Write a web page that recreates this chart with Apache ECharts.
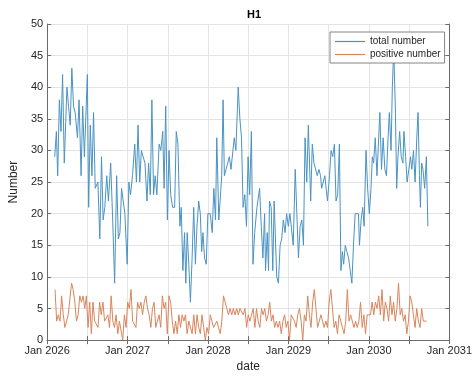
<!DOCTYPE html>
<html>
<head>
<meta charset="utf-8">
<script src="https://cdn.jsdelivr.net/npm/echarts@6/dist/echarts.min.js"></script>
<style>
html, body { margin: 0; padding: 0; background: #fff; }
#chart { width: 475px; height: 378px; }
</style>
</head>
<body>
<div id="chart"></div>
<script>
// total number: [years after Jan 2026] and counts
var totalYr = [
  0.094, 0.115, 0.131, 0.152, 0.172, 0.192, 0.213, 0.246, 0.266, 0.287,
  0.307, 0.328, 0.348, 0.377, 0.397, 0.422, 0.442, 0.463, 0.500, 0.516,
  0.536, 0.557, 0.577, 0.598, 0.618, 0.631, 0.655, 0.676, 0.696, 0.717,
  0.741, 0.762, 0.790, 0.815, 0.839, 0.864, 0.885, 0.905, 0.925, 0.946,
  0.966, 0.995, 1.016, 1.036, 1.061, 1.089, 1.110, 1.130, 1.151, 1.171,
  1.192, 1.216, 1.241, 1.261, 1.282, 1.302, 1.323, 1.343, 1.364, 1.392,
  1.413, 1.437, 1.454, 1.474, 1.495, 1.515, 1.536, 1.560, 1.585, 1.605,
  1.626, 1.650, 1.667, 1.687, 1.708, 1.724, 1.741, 1.761, 1.781, 1.802,
  1.822, 1.843, 1.863, 1.884, 1.904, 1.921, 1.937, 1.957, 1.978, 1.998,
  2.027, 2.052, 2.072, 2.093, 2.109, 2.134, 2.150, 2.170, 2.187, 2.203,
  2.224, 2.240, 2.265, 2.285, 2.306, 2.326, 2.346, 2.375, 2.396, 2.416,
  2.436, 2.457, 2.478, 2.498, 2.518, 2.539, 2.559, 2.580, 2.608, 2.641,
  2.662, 2.682, 2.703, 2.715, 2.736, 2.752, 2.764, 2.785, 2.805, 2.822,
  2.838, 2.854, 2.875, 2.896, 2.916, 2.936, 2.957, 2.977, 2.998, 3.018,
  3.038, 3.059, 3.084, 3.104, 3.124, 3.145, 3.166, 3.186, 3.206, 3.227,
  3.247, 3.276, 3.296, 3.317, 3.338, 3.358, 3.378, 3.399, 3.412, 3.428,
  3.452, 3.468, 3.485, 3.510, 3.530, 3.550, 3.571, 3.591, 3.612, 3.633,
  3.652, 3.670, 3.686, 3.706, 3.726, 3.747, 3.768, 3.788, 3.808, 3.829,
  3.849, 3.870, 3.882, 3.903, 3.923, 3.940, 3.964, 3.984, 4.005, 4.026,
  4.042, 4.058, 4.079, 4.100, 4.119, 4.136, 4.156, 4.177, 4.198, 4.218,
  4.238, 4.254, 4.275, 4.291, 4.308, 4.328, 4.345, 4.361, 4.382, 4.402,
  4.423, 4.435, 4.456, 4.475, 4.496, 4.517, 4.533, 4.554, 4.574, 4.595,
  4.611, 4.628, 4.640, 4.656, 4.672, 4.693, 4.714, 4.733
];
var totalNum = [
  29, 33, 26, 38, 33, 42, 28, 40, 37, 34,
  43, 37, 36, 32, 38, 26, 37, 29, 42, 21,
  34, 26, 36, 24, 24, 25, 16, 29, 19, 21,
  26, 22, 28, 19, 9, 26, 16, 17, 24, 24,
  20, 12, 25, 23, 26, 31, 25, 34, 25, 30,
  30, 28, 22, 28, 23, 38, 23, 26, 23, 31,
  30, 33, 24, 37, 19, 30, 23, 21, 21, 33,
  31, 18, 21, 11, 17, 9, 17, 12, 6, 13,
  21, 12, 18, 22, 20, 14, 17, 13, 12, 20,
  20, 17, 24, 19, 32, 19, 22, 26, 38, 26,
  27, 27, 29, 27, 27, 32, 30, 40, 35, 32,
  21, 23, 18, 29, 23, 33, 12, 17, 21, 24,
  18, 13, 20, 11, 17, 11, 22, 21, 11, 22,
  16, 10, 9, 15, 16, 19, 17, 20, 18, 20,
  20, 15, 27, 20, 13, 18, 19, 15, 32, 25,
  34, 22, 31, 28, 28, 26, 27, 26, 24, 24,
  26, 24, 22, 26, 30, 29, 31, 22, 23, 31,
  11, 14, 12, 15, 14, 13, 11, 9, 15, 20,
  20, 20, 15, 19, 21, 18, 30, 24, 20, 24,
  29, 28, 32, 26, 26, 36, 27, 32, 27, 26,
  32, 36, 30, 40, 46, 37, 24, 29, 33, 29,
  28, 33, 29, 25, 27, 29, 27, 30, 25, 32,
  36, 26, 21, 28, 27, 24, 29, 18
];

// positive number: roughly weekly samples from posStart (years after Jan 2026)
var posStart = 0.098;
var posStep = 0.02053;
var posNum = [
  8, 3, 4, 3, 7, 4, 2, 3, 4, 4, 9, 8, 6, 3, 4, 7, 6, 7, 5, 7,
  2, 6, 1, 6, 3, 3, 2, 6, 4, 6, 3, 3, 4, 2, 7, 3, 2, 4, 1, 3,
  3, 0, 4, 2, 6, 5, 8, 3, 3, 2, 6, 5, 6, 4, 6, 7, 5, 4,
  2, 5, 6, 2, 2, 4, 2, 7, 5, 6, 1, 7, 6, 3, 1, 3, 1, 4, 2, 4,
  3, 4, 1, 3, 3, 1, 4, 1, 4, 2, 1, 4, 2, 0, 2, 1, 4, 3, 2, 2,
  3, 2, 1, 3, 7, 7, 5, 4, 5, 4, 5, 4, 5, 4, 5, 5, 4, 5,
  2, 4, 3, 3, 5, 2, 5, 3, 2, 5, 4, 5, 3, 4, 6, 3, 4, 2, 3, 2,
  3, 1, 3, 4, 2, 3, 0, 4, 4, 3, 2, 4, 5, 3, 0, 4, 3, 7, 4, 2,
  6, 8, 5, 2, 3, 4, 3, 2, 3, 2, 6, 8, 5, 2, 3, 1, 4, 3,
  2, 1, 3, 8, 3, 4, 3, 2, 3, 2, 3, 6, 2, 4, 1, 4, 4, 4, 6, 4,
  6, 5, 7, 4, 8, 3, 6, 5, 3, 7, 4, 6, 3, 5, 9, 4, 5, 3, 4, 1,
  3, 7, 6, 4, 2, 5, 3, 2, 5, 3, 3, 3
];

var seriesNames = ['total number', 'positive number'];
var yearStart = 2026, yearEnd = 2031;

var FONT = '"Liberation Sans", Arial, sans-serif';
var TXT = '#262626';
var AXC = '#6a6a6a';
var GRIDC = '#e4e4e4';
var BLUE = '#4a93c3';
var ORANGE = '#d9855c';

var totalData = totalYr.map(function(t, i) { return [yearStart + t, totalNum[i]]; });
var posData = posNum.map(function(v, i) { return [yearStart + posStart + i * posStep, v]; });

var tickStyle = { inside: true, length: 4, lineStyle: { color: AXC, width: 1 } };
var lineStyle = { lineStyle: { color: AXC, width: 1 } };

var chart = echarts.init(document.getElementById('chart'));
chart.setOption({
  animation: false,
  backgroundColor: '#fff',
  textStyle: { fontFamily: FONT },
  title: {
    text: 'H1', left: 249, top: 4, textAlign: 'center',
    textStyle: { fontSize: 11, fontWeight: 'bold', color: '#000', fontFamily: FONT }
  },
  legend: {
    orient: 'vertical', left: 330, top: 32,
    data: seriesNames,
    icon: 'rect', itemWidth: 30, itemHeight: 1.2, itemGap: 2, itemTextGap: 5,
    padding: [4, 4, 3, 5],
    borderColor: '#666', borderWidth: 0.8, borderRadius: 0, backgroundColor: '#fff',
    textStyle: { fontSize: 10, color: TXT, fontFamily: FONT, lineHeight: 11 }
  },
  grid: { left: 45, right: 23, top: 24, bottom: 32 },
  xAxis: [{
    type: 'value', min: yearStart, max: yearEnd, interval: 0.5,
    name: 'date', nameLocation: 'middle', nameGap: 20,
    nameTextStyle: { fontSize: 12, color: TXT, fontFamily: FONT },
    axisLine: lineStyle, axisTick: tickStyle,
    axisLabel: {
      margin: 5, fontSize: 11, color: TXT, fontFamily: FONT,
      showMinLabel: true, showMaxLabel: true,
      formatter: function(v) {
        return Math.abs(v - Math.round(v)) < 1e-6 ? 'Jan ' + Math.round(v) : '';
      }
    },
    splitLine: { show: true, lineStyle: { color: GRIDC, width: 1 } }
  }, {
    type: 'value', position: 'top', min: yearStart, max: yearEnd, interval: 0.5,
    axisLine: lineStyle, axisTick: tickStyle,
    axisLabel: { show: false }, splitLine: { show: false }
  }],
  yAxis: [{
    type: 'value', min: 0, max: 50, interval: 5,
    name: 'Number', nameLocation: 'middle', nameGap: 22,
    nameTextStyle: { fontSize: 12, color: TXT, fontFamily: FONT },
    axisLine: { show: true, lineStyle: { color: AXC, width: 1 } },
    axisTick: { show: true, inside: true, length: 4, lineStyle: { color: AXC, width: 1 } },
    axisLabel: { margin: 4, fontSize: 11, color: TXT, fontFamily: FONT },
    splitLine: { show: true, lineStyle: { color: GRIDC, width: 1 } }
  }, {
    type: 'value', position: 'right', min: 0, max: 50, interval: 5,
    axisLine: { show: true, lineStyle: { color: AXC, width: 1 } },
    axisTick: { show: true, inside: true, length: 4, lineStyle: { color: AXC, width: 1 } },
    axisLabel: { show: false }, splitLine: { show: false }
  }],
  series: [{
    name: seriesNames[0], type: 'line', data: totalData,
    xAxisIndex: 0, yAxisIndex: 0,
    symbol: 'none', z: 2,
    lineStyle: { color: BLUE, width: 1 }, itemStyle: { color: BLUE }
  }, {
    name: seriesNames[1], type: 'line', data: posData,
    xAxisIndex: 0, yAxisIndex: 0,
    symbol: 'none', z: 3,
    lineStyle: { color: ORANGE, width: 1 }, itemStyle: { color: ORANGE }
  }]
});
</script>
</body>
</html>
